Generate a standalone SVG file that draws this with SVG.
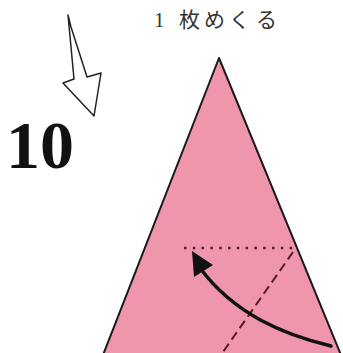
<svg xmlns="http://www.w3.org/2000/svg" width="343" height="353" viewBox="0 0 343 353">
<style>
.lbl{font-family:"Liberation Serif","Noto Sans CJK JP",serif;font-size:21px;fill:#333}
.num{font-family:"Liberation Serif",serif;font-size:68px;font-weight:bold;fill:#111}
.edge{fill:#f096ac;stroke:#1a1a1a;stroke-width:2;stroke-linejoin:round}
.dot{fill:none;stroke:#5a1a28;stroke-width:2.5;stroke-dasharray:2.5 6.3}
.dash{fill:none;stroke:#5a1a28;stroke-width:2;stroke-dasharray:9 5}
.curve{fill:none;stroke:#111;stroke-width:3.5;stroke-linecap:round}
</style>
<rect width="343" height="353" fill="#ffffff"/>
<g id="title"><text class="lbl" x="154 168 179 204 229 256" y="27">1 枚めくる</text></g>
<g id="step"><text class="num" x="6" y="168">10</text></g>
<g id="hollow-arrow"><path d="M68,15 L74,79 L63,83 L94,116 L101,73 L87,77 L71,27 Z" fill="#fff" stroke="#222" stroke-width="1.5" stroke-linejoin="round"/></g>
<g id="paper"><path class="edge" d="M219,58 L341,355 L103,355 Z"/></g>
<g id="connectors">
<line class="dot" x1="184" y1="248" x2="294" y2="248"/>
<line class="dash" x1="293" y1="252" x2="223" y2="352"/>
<path class="curve" d="M331,346 C285,335 235,315 200,268"/>
<path d="M192,251 L194,277 L213,265 Z" fill="#111"/>
</g>
</svg>
